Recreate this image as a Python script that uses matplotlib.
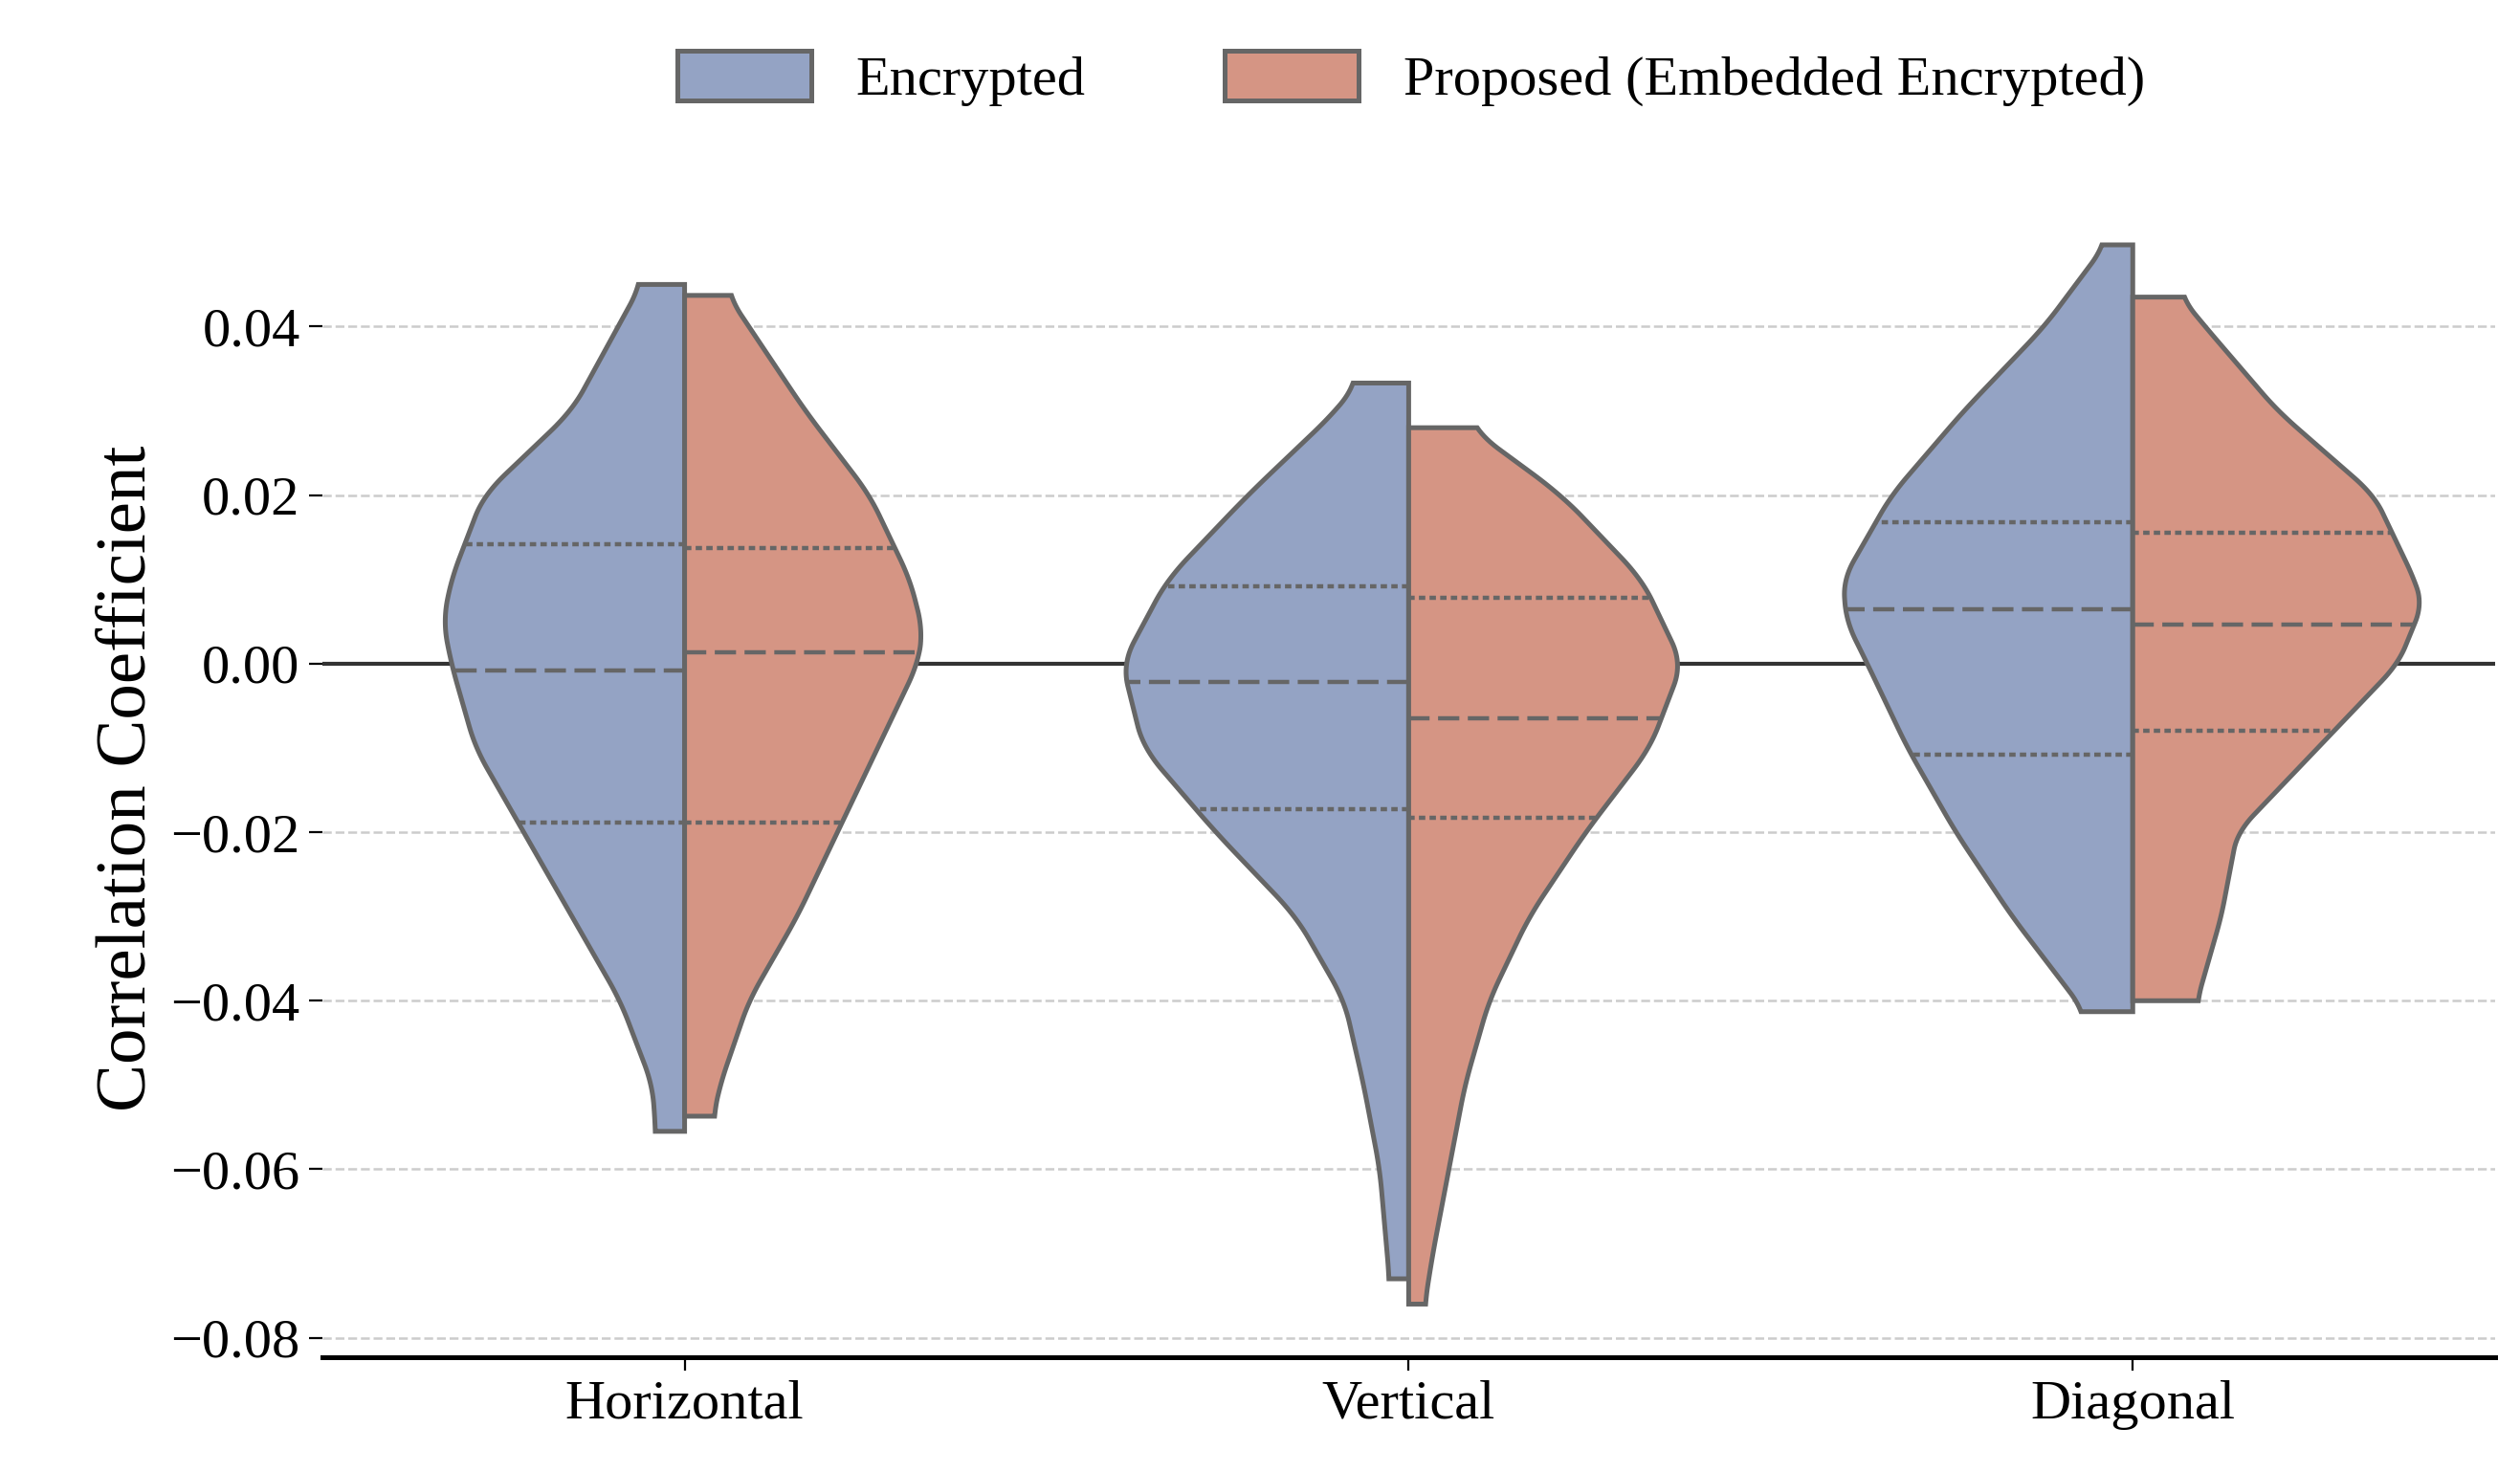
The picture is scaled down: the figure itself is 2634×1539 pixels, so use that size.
import numpy as np
import matplotlib
matplotlib.use("Agg")
import matplotlib.pyplot as plt
from matplotlib.patches import Patch

plt.rcParams['font.family'] = ['Liberation Serif', 'DejaVu Serif']

categories = ["Horizontal", "Vertical", "Diagonal"]
series = ["Encrypted", "Proposed (Embedded Encrypted)"]
colors = ["#94a3c4", "#d59584"]

# density profiles: y values and half-widths (pixels / 450 -> category units)
prof = {
    ("Horizontal", 0): ([0.045, 0.03, 0.02, 0.01, 0.005, 0.0, -0.01, -0.02, -0.03, -0.04, -0.05, -0.0555],
                        [27, 70, 125, 145, 150, 145, 130, 100, 70, 40, 20, 18]),
    ("Horizontal", 1): ([0.0437, 0.03, 0.02, 0.01, 0.004, 0.0, -0.01, -0.02, -0.03, -0.04, -0.05, -0.0537],
                        [27, 75, 115, 140, 148, 145, 120, 95, 70, 40, 22, 18]),
    ("Vertical", 0): ([0.0333, 0.03, 0.02, 0.01, 0.0, -0.01, -0.02, -0.03, -0.04, -0.05, -0.06, -0.073],
                      [32, 45, 100, 150, 178, 165, 120, 70, 40, 28, 18, 12]),
    ("Vertical", 1): ([0.028, 0.02, 0.01, 0.0, -0.01, -0.02, -0.03, -0.04, -0.05, -0.06, -0.07, -0.076],
                      [38, 95, 145, 170, 150, 110, 75, 50, 35, 25, 15, 10]),
    ("Diagonal", 0): ([0.0497, 0.04, 0.03, 0.02, 0.01, 0.005, 0.0, -0.01, -0.02, -0.03, -0.04, -0.0413],
                      [17, 55, 105, 150, 180, 178, 165, 140, 110, 75, 35, 30]),
    ("Diagonal", 1): ([0.0435, 0.04, 0.03, 0.02, 0.01, 0.007, 0.0, -0.01, -0.02, -0.03, -0.04],
                      [30, 45, 90, 150, 175, 180, 165, 115, 65, 55, 40]),
}
quart = {
    ("Horizontal", 0): [0.0142, -0.0008, -0.0188],
    ("Horizontal", 1): [0.0137, 0.0013, -0.0188],
    ("Vertical", 0): [0.0092, -0.0022, -0.0173],
    ("Vertical", 1): [0.0078, -0.0065, -0.0183],
    ("Diagonal", 0): [0.0168, 0.0065, -0.0108],
    ("Diagonal", 1): [0.0155, 0.0046, -0.0080],
}

fig = plt.figure(figsize=(13.17, 7.695), dpi=200)
ax = fig.add_axes([0.128, 0.078, 0.862, 0.786])
edge = "#666666"

for i, cat in enumerate(categories):
    for s in (0, 1):
        ys, ws = prof[(cat, s)]
        ys = np.array(ys)[::-1]; ws = np.array(ws, float)[::-1] / 450
        yy = np.linspace(ys[0], ys[-1], 300)
        ww = np.interp(yy, ys, ws)
        k = np.ones(15) / 15
        ww = np.convolve(np.pad(ww, 7, mode="edge"), k, mode="valid")
        sign = -1 if s == 0 else 1
        xs = i + sign * ww
        px = np.concatenate([[i], xs, [i]])
        py = np.concatenate([[yy[0]], yy, [yy[-1]]])
        ax.fill(px, py, color=colors[s], ec=edge, lw=1.8, zorder=2)
        for j, q in enumerate(quart[(cat, s)]):
            wq = np.interp(q, yy, ww)
            ax.plot([i, i + sign * wq], [q, q], color=edge, lw=1.6,
                    ls=(0, (5, 2)) if j == 1 else (0, (1.5, 1)), zorder=3)

ax.axhline(0, color="#333333", lw=1.5, zorder=1)
ax.set_xlim(-0.5, 2.5)
ax.set_ylim(-0.0823, 0.055)
ax.set_yticks(np.arange(-0.08, 0.041, 0.02))
ax.yaxis.set_major_formatter(matplotlib.ticker.FuncFormatter(lambda v, p: f"{v:.2f}".replace("-", "\u2212")))
ax.grid(axis="y", ls="--", color="#cccccc", lw=0.9, zorder=0)
ax.set_axisbelow(True)
ax.set_xticks(range(3))
ax.set_xticklabels(categories, fontsize=21)
ax.tick_params(axis="y", labelsize=21, length=5)
ax.tick_params(axis="x", length=5)
for sp in ("top", "right", "left"):
    ax.spines[sp].set_visible(False)
ax.spines["bottom"].set_linewidth(1.8)
ax.set_ylabel("Correlation Coefficient", fontsize=27)

handles = [Patch(fc=colors[s], ec=edge, lw=1.8, label=series[s]) for s in (0, 1)]
fig.legend(handles=handles, loc="upper center", bbox_to_anchor=(0.56, 1.0), ncol=2,
           frameon=False, fontsize=21, handlelength=2.4, handleheight=1.0, columnspacing=2.5)

fig.savefig("out.png", dpi=200)
